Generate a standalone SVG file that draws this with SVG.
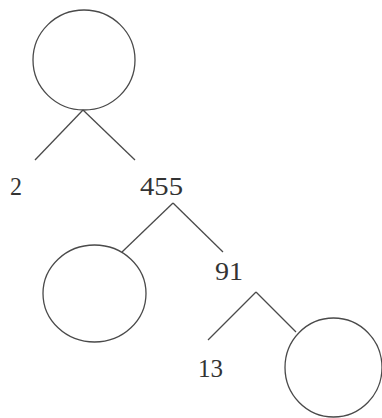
<svg xmlns="http://www.w3.org/2000/svg" width="382" height="418" viewBox="0 0 382 418">
<style>
.n{fill:none;stroke:#4a4a4a;stroke-width:1.3}
.e{stroke:#4a4a4a;stroke-width:1.3;fill:none}
.t{font-family:"Liberation Serif","Times New Roman",serif;font-size:26px;fill:#333}
</style>
<rect width="382" height="418" fill="#fff"/>
<g id="connectors">
<line class="e" x1="83" y1="110" x2="35" y2="160"/>
<line class="e" x1="83" y1="110" x2="135" y2="160"/>
<line class="e" x1="173" y1="203" x2="122" y2="252"/>
<line class="e" x1="173" y1="203" x2="223" y2="252"/>
<line class="e" x1="256" y1="292" x2="208" y2="340"/>
<line class="e" x1="256" y1="292" x2="296" y2="332"/>
</g>
<g id="node-top"><ellipse class="n" cx="84" cy="60" rx="51" ry="50"/></g>
<g id="node-2"><text class="t" x="10" y="195" textLength="12" lengthAdjust="spacingAndGlyphs">2</text></g>
<g id="node-455"><text class="t" x="140" y="195" textLength="43" lengthAdjust="spacingAndGlyphs">455</text></g>
<g id="node-left"><ellipse class="n" cx="94.5" cy="293.5" rx="51.5" ry="48.5"/></g>
<g id="node-91"><text class="t" x="215" y="280" textLength="28" lengthAdjust="spacingAndGlyphs">91</text></g>
<g id="node-13"><text class="t" x="198" y="377" textLength="25" lengthAdjust="spacingAndGlyphs">13</text></g>
<g id="node-right"><ellipse class="n" cx="333.5" cy="367.5" rx="48.5" ry="49.5"/></g>
</svg>
